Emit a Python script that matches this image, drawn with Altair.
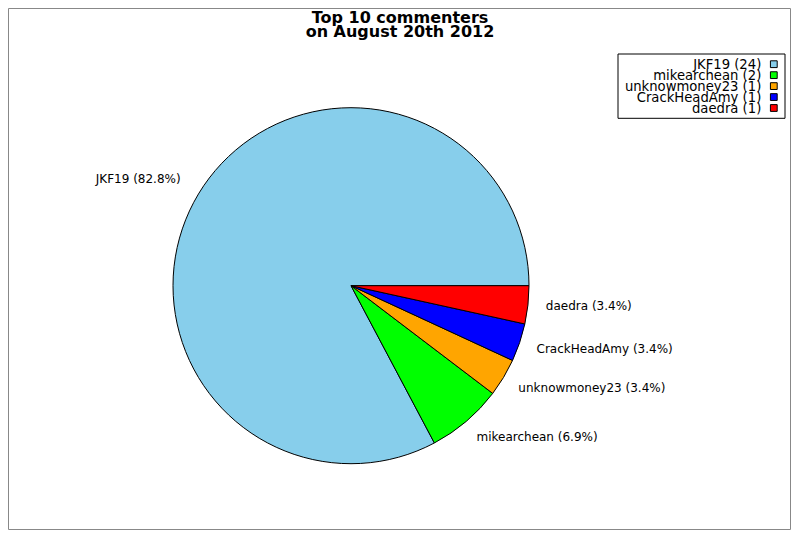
import math
import altair as alt
import pandas as pd

# ---- data ----
names = ["JKF19", "mikearchean", "unknowmoney23", "CrackHeadAmy", "daedra"]
counts = [24, 2, 1, 1, 1]
colors = ["#87CEEB", "#00FF00", "#FFA500", "#0000FF", "#FF0000"]
title_lines = ["Top 10 commenters", "on August 20th 2012"]

df = pd.DataFrame({"name": names, "count": counts, "rank": list(range(len(names)))})

FONT = "DejaVu Sans"
CX, CY = 343, 277.7   # pie centre (px in plot area)
R = 178               # pie radius
LR = 200              # label radius

base = alt.Chart(df).transform_joinaggregate(
    total="sum(count)"
).transform_calculate(
    label="datum.name + ' (' + format(100 * datum.count / datum.total, '.1f') + '%)'",
    leg="datum.name + ' (' + datum.count + ')'",
)

theta = alt.Theta("count:Q", stack=True,
                  scale=alt.Scale(range=[math.pi / 2, 5 * math.pi / 2]))
order = alt.Order("rank:Q", sort="descending")
color = alt.Color("name:N", scale=alt.Scale(domain=names, range=colors), legend=None)

pie = base.mark_arc(radius=R, stroke="black", strokeWidth=1).encode(
    theta=theta, order=order, color=color,
    x=alt.value(CX), y=alt.value(CY),
)

first = names[0]
lab_right = base.mark_text(font=FONT, fontSize=12, align="left", baseline="middle",
                           dx=-4, dy=-1, color="black").encode(
    theta=theta, order=order, radius=alt.value(LR),
    x=alt.value(CX), y=alt.value(CY),
    text=alt.condition(f"datum.name !== '{first}'", alt.Text("label:N"), alt.value("")),
)
lab_left = base.mark_text(font=FONT, fontSize=12, align="right", baseline="middle",
                          dx=1, dy=-4, color="black").encode(
    theta=theta, order=order, radius=alt.value(LR),
    x=alt.value(CX), y=alt.value(CY),
    text=alt.condition(f"datum.name === '{first}'", alt.Text("label:N"), alt.value("")),
)

# ---- legend (labels left of swatches, boxed) ----
leg_y = alt.Y("name:N", scale=alt.Scale(domain=names, range=[56.2, 100], padding=0), axis=None)
legend_box = alt.Chart(pd.DataFrame({"box": [0]})).mark_rect(
    fill="white", stroke="black", strokeWidth=1
).encode(x=alt.value(610), x2=alt.value(777), y=alt.value(46), y2=alt.value(110.3))
leg_text = base.mark_text(font=FONT, fontSize=13.2, align="right", baseline="middle",
                          dy=1, color="black").encode(
    x=alt.value(753.3), y=leg_y, text="leg:N")
leg_sq = base.mark_square(size=46, stroke="black", strokeWidth=1, opacity=1, filled=True).encode(
    x=alt.value(765.8), y=leg_y, color=color)

# ---- title ----
title = alt.Chart(pd.DataFrame({"title": ["\n".join(title_lines)]})).mark_text(
    font=FONT, fontSize=16, fontWeight="bold", lineBreak="\n", lineHeight=14,
    baseline="alphabetic", align="center", color="black"
).encode(x=alt.value(392), y=alt.value(14.5), text="title:N")

chart = alt.layer(
    pie, lab_right, lab_left, legend_box, leg_text, leg_sq, title
).properties(
    width=782, height=521, padding={"left": 0, "top": 0, "right": 1, "bottom": 1},
    background="white"
).configure_view(stroke="#888888", strokeWidth=1)

chart.save("out.html", embed_options={"renderer": "svg", "actions": False})
